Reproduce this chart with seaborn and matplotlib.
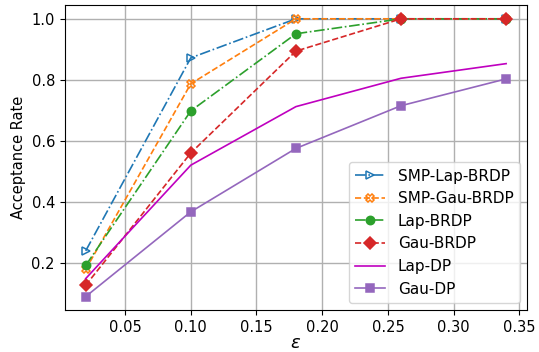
import numpy as np
import pandas as pd
import seaborn as sns
import matplotlib
matplotlib.use('Agg')
import matplotlib.pyplot as plt

plt.rcParams['font.size'] = 10.5

eps = [0.02, 0.10, 0.18, 0.26, 0.34]
smp_lap_brdp = [0.239, 0.872, 1.0, 1.0, 1.0]
smp_gau_brdp = [0.178, 0.787, 1.0, 1.0, 1.0]
lap_brdp = [0.191, 0.698, 0.951, 1.0, 1.0]
gau_brdp = [0.126, 0.560, 0.894, 1.0, 1.0]
lap_dp = [0.148, 0.520, 0.712, 0.805, 0.853]
gau_dp = [0.089, 0.367, 0.575, 0.715, 0.803]

names = ['SMP-Lap-BRDP', 'SMP-Gau-BRDP', 'Lap-BRDP', 'Gau-BRDP', 'Lap-DP', 'Gau-DP']
series = [smp_lap_brdp, smp_gau_brdp, lap_brdp, gau_brdp, lap_dp, gau_dp]
# (color, linestyle, marker, filled)
styles = [('tab:blue', '-.', '>', False),
          ('tab:orange', '--', 'X', False),
          ('tab:green', '-.', 'o', True),
          ('tab:red', '--', 'D', True),
          ('m', '-', None, True),
          ('tab:purple', '-', 's', True)]

df = pd.DataFrame({'eps': eps})
for n, s in zip(names, series):
    df[n] = s

fig = plt.figure(figsize=(5.39, 3.52), dpi=100)
ax = fig.add_axes([0.12, 0.118, 0.858, 0.868])
for n, (c, ls, mk, filled) in zip(names, styles):
    kw = dict(color=c, linestyle=ls, linewidth=1.2, label=n)
    if mk is not None:
        kw.update(marker=mk, markersize=6, markeredgecolor=c,
                  markerfacecolor=c if filled else 'none', markeredgewidth=1.1)
    sns.lineplot(data=df, x='eps', y=n, ax=ax, **kw)

ax.grid(True, color='#b0b0b0', linewidth=1)
ax.set_xticks([0.05, 0.10, 0.15, 0.20, 0.25, 0.30, 0.35])
ax.set_yticks([0.2, 0.4, 0.6, 0.8, 1.0])
ax.set_xlabel(r'$\varepsilon$', fontsize=13, labelpad=-1)
ax.set_ylabel('Acceptance Rate', fontsize=10.5)
ax.legend(loc='lower right', fontsize=11)
fig.savefig('out.png', dpi=100)
